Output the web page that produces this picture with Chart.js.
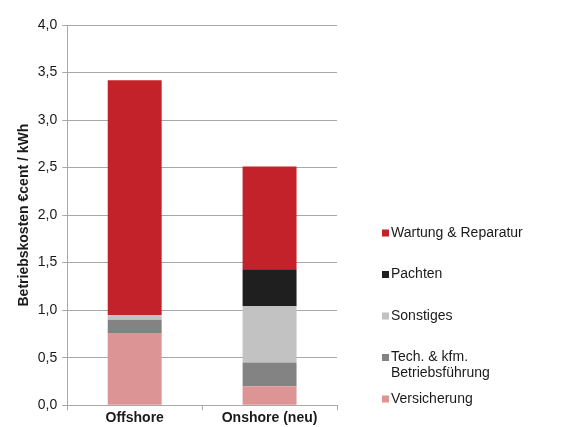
<!DOCTYPE html>
<html>
<head>
<meta charset="utf-8">
<script src="https://cdn.jsdelivr.net/npm/chart.js@4"></script>
<style>
  body { margin: 0; background: #fff; }
  #wrap { width: 570px; height: 427px; position: relative; }
</style>
</head>
<body>
<div id="wrap"><canvas id="costChart"></canvas></div>
<script>
const categories = ["Offshore", "Onshore (neu)"];
const versicherung = [0.76, 0.20];
const techKfm = [0.14, 0.25];
const sonstiges = [0.05, 0.59];
const pachten = [0, 0.39];
const wartung = [2.47, 1.08];
const yTicks = [0, 0.5, 1, 1.5, 2, 2.5, 3, 3.5, 4];

const FONT = "'Liberation Sans', Arial, sans-serif";

// legend drawn by hand: reversed order, one label on two lines
const sideLegend = {
  id: "sideLegend",
  afterDraw(chart) {
    const ctx = chart.ctx;
    const sets = chart.data.datasets.slice().reverse();
    let y = 233;
    ctx.save();
    ctx.font = "14px " + FONT;
    ctx.textBaseline = "middle";
    sets.forEach(ds => {
      ctx.fillStyle = ds.backgroundColor;
      ctx.fillRect(382, y - 3.5, 7, 7);
      ctx.fillStyle = "#1a1a1a";
      const lines = [].concat(ds.legendText || ds.label);
      lines.forEach((t, i) => ctx.fillText(t, 391, y + i * 16));
      y += 41.5;
    });
    ctx.restore();
  }
};

new Chart(document.getElementById("costChart").getContext("2d"), {
  type: "bar",
  data: {
    labels: categories,
    datasets: [
      { label: "Versicherung", data: versicherung, backgroundColor: "#dc9495" },
      { label: "Tech. & kfm. Betriebsführung", legendText: ["Tech. & kfm.", "Betriebsführung"], data: techKfm, backgroundColor: "#838383" },
      { label: "Sonstiges", data: sonstiges, backgroundColor: "#c2c2c2" },
      { label: "Pachten", data: pachten, backgroundColor: "#1f1f1f" },
      { label: "Wartung & Reparatur", data: wartung, backgroundColor: "#c4222a" }
    ]
  },
  options: {
    responsive: true,
    maintainAspectRatio: false,
    animation: false,
    layout: { padding: { top: 25, right: 233, left: 16, bottom: 0 } },
    datasets: { bar: { categoryPercentage: 0.8, barPercentage: 0.5 } },
    plugins: {
      legend: { display: false },
      tooltip: { enabled: false }
    },
    scales: {
      x: {
        stacked: true,
        grid: { drawOnChartArea: false, offset: true, tickLength: 5, color: "#a8a8a8" },
        border: { color: "#a8a8a8" },
        ticks: { color: "#1a1a1a", font: { family: FONT, size: 14, weight: "bold" }, padding: 0 }
      },
      y: {
        stacked: true,
        min: 0,
        max: 4,
        afterBuildTicks: axis => { axis.ticks = yTicks.map(v => ({ value: v })); },
        grid: { color: "#a8a8a8", tickLength: 5 },
        border: { color: "#a8a8a8" },
        ticks: {
          color: "#1a1a1a",
          font: { family: FONT, size: 14 },
          padding: 5,
          callback: v => v.toFixed(1).replace(".", ",")
        },
        title: {
          display: true,
          text: "Betriebskosten €cent / kWh",
          color: "#1a1a1a",
          font: { family: FONT, size: 14, weight: "bold" },
          padding: { top: 0, bottom: 0 }
        }
      }
    }
  },
  plugins: [sideLegend]
});
</script>
</body>
</html>
